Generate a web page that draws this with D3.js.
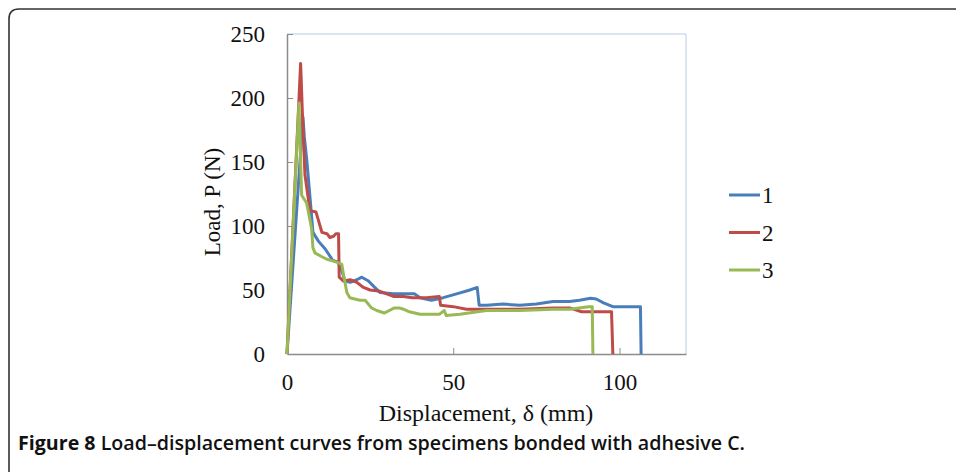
<!DOCTYPE html>
<html><head><meta charset="utf-8">
<script src="https://cdn.jsdelivr.net/npm/d3@7"></script>
<style>body{margin:0;background:#fff}svg{display:block}</style>
</head><body>
<svg id="c" width="956" height="472"></svg>
<script>
const seriesNames = ["1", "2", "3"];
const colors = ["#4a7ebb", "#be4b48", "#98b954"];
const xTicks = [0, 50, 100];
const yTicks = [0, 50, 100, 150, 200, 250];

// series 1 (blue)
const s1x = [0, 4.8, 5.2, 6.0, 7.0, 7.8, 9.5, 11.5, 13.8, 15.3, 16.5, 17.4, 19.0, 21.0, 22.5, 24.5, 26.0, 28.0, 32.0, 36.0, 38.3, 40.0, 43.4, 47.0, 51.0, 55.0, 57.2, 57.8, 60.0, 65.0, 70.0, 75.0, 80.0, 85.0, 88.0, 91.3, 93.0, 95.2, 98.0, 102.0, 106.3, 106.5];
const s1y = [0, 185, 170, 150, 120, 95, 88, 82, 73, 72, 65, 57, 56, 58, 60, 57, 53, 48, 47, 47, 47, 44, 42, 44, 47, 50, 52, 38, 38, 39, 38, 39, 41, 41, 42, 43.5, 43, 40, 37, 37, 37, 0];
// series 2 (red)
const s2x = [0, 4.1, 4.6, 5.4, 6.9, 8.7, 9.5, 10.5, 12.0, 12.9, 14.0, 14.7, 15.5, 15.7, 17.0, 19.0, 21.0, 23.0, 25.0, 28.0, 32.0, 35.0, 37.7, 42.0, 45.8, 46.2, 50.0, 54.0, 60.0, 70.0, 80.0, 85.0, 88.6, 92.0, 97.6, 98.0];
const s2y = [0, 227, 190, 140, 112, 111, 104, 95, 94, 91, 92, 94, 94, 60, 57, 58, 56, 52, 50, 49, 45, 45, 44, 44, 45, 38, 37, 35, 35, 35, 36, 36, 33, 33, 33, 0];
// series 3 (green)
const s3x = [0, 3.6, 4.0, 4.4, 5.9, 7.4, 7.8, 8.4, 10.5, 12.0, 14.7, 16.5, 17.0, 18.0, 18.9, 21.9, 23.5, 25.4, 27.0, 29.3, 32.3, 33.8, 35.0, 36.8, 40.0, 45.8, 47.3, 47.9, 52.0, 60.0, 70.0, 80.0, 85.0, 90.7, 91.8, 92.0];
const s3y = [0, 196, 160, 124, 118, 98, 83, 79, 76, 74, 72, 70, 62, 48, 44, 42, 42, 36, 34, 32, 36, 36, 35, 33, 31, 31, 34, 30, 31, 34, 34, 35, 35, 37, 37, 0];

const xs = [s1x, s2x, s3x], ys = [s1y, s2y, s3y];

const svg = d3.select("#c");
// figure frame
svg.append("path")
  .attr("d", "M9,480 L9,19 Q9,9 19,9 L960,9")
  .attr("fill", "none").attr("stroke", "#333").attr("stroke-width", 1.6);

const L = 287, R = 686, T = 34, B = 354;
const x = d3.scaleLinear().domain([0, 120]).range([L, R]);
const y = d3.scaleLinear().domain([0, 250]).range([B, T]);

// plot area border (top/right light blue)
svg.append("path").attr("d", `M${L},${T}H${R}V${B}`)
  .attr("fill", "none").attr("stroke", "#b9cde5").attr("stroke-width", 1);

const serif = "'Liberation Serif','Times New Roman',serif";

const yAxis = svg.append("g").attr("transform", `translate(${L},0)`)
  .call(d3.axisLeft(y).tickValues(yTicks).tickSizeInner(-6).tickSizeOuter(0).tickPadding(22));
const xAxis = svg.append("g").attr("transform", `translate(0,${B})`)
  .call(d3.axisBottom(x).tickValues(xTicks).tickSizeInner(-6).tickSizeOuter(0).tickPadding(20));
[yAxis, xAxis].forEach(a => {
  a.select(".domain").attr("stroke", "#8c8c8c").attr("stroke-width", 1.5);
  a.selectAll(".tick line").attr("stroke", "#8c8c8c");
  a.selectAll("text").attr("font-family", serif).attr("font-size", 23).attr("fill", "#111");
});
xAxis.selectAll(".tick").filter(d => d === 0).select("line").remove();
yAxis.selectAll(".tick").filter(d => d === 0).select("line").remove();

const line = d3.line().x(d => x(d[0])).y(d => y(d[1]));
xs.forEach((sx, i) => {
  const pts = sx.map((v, j) => [v, ys[i][j]]);
  svg.append("path").datum(pts).attr("d", line)
    .attr("fill", "none").attr("stroke", colors[i]).attr("stroke-width", 3)
    .attr("stroke-linejoin", "round");
});

// axis titles
svg.append("text").attr("x", 486).attr("y", 421).attr("text-anchor", "middle")
  .attr("font-family", serif).attr("font-size", 24).attr("fill", "#111")
  .text("Displacement,  δ (mm)");
svg.append("text").attr("transform", "translate(220,202) rotate(-90)").attr("text-anchor", "middle")
  .attr("font-family", serif).attr("font-size", 23).attr("fill", "#111")
  .text("Load, P (N)");

// legend
seriesNames.forEach((n, i) => {
  const ly = 195 + i * 37.5;
  svg.append("line").attr("x1", 729).attr("x2", 760).attr("y1", ly).attr("y2", ly)
    .attr("stroke", colors[i]).attr("stroke-width", 3);
  svg.append("text").attr("x", 762).attr("y", ly + 8).attr("font-family", serif)
    .attr("font-size", 23).attr("fill", "#111").text(n);
});

// caption
const cap = svg.append("text").attr("x", 18).attr("y", 450)
  .attr("font-family", "'Open Sans','Noto Sans',sans-serif").attr("font-size", 20).attr("fill", "#111")
  .attr("textLength", 727).attr("lengthAdjust", "spacingAndGlyphs");
cap.append("tspan").attr("font-weight", 700).text("Figure 8 ");
cap.append("tspan").attr("font-weight", 600).text("Load–displacement curves from specimens bonded with adhesive C.");
</script>
</body></html>
